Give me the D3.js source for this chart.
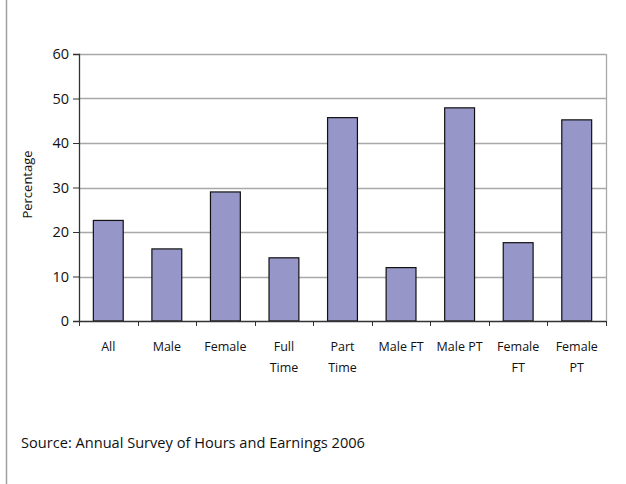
<!DOCTYPE html>
<html>
<head>
<meta charset="utf-8">
<script src="https://cdn.jsdelivr.net/npm/d3@7"></script>
<style>
  body { margin: 0; background: #fff; }
  svg text { font-family: "Open Sans", "DejaVu Sans", sans-serif; fill: #111; }
  .yax text { font-size: 14.5px; }
</style>
</head>
<body>
<div id="chart"></div>
<script>
var categories = [["All"], ["Male"], ["Female"], ["Full", "Time"], ["Part", "Time"],
                  ["Male FT"], ["Male PT"], ["Female", "FT"], ["Female", "PT"]];
var values = [22.6, 16.2, 29.0, 14.2, 45.7, 12.0, 47.9, 17.6, 45.2];
var yTicks = [0, 10, 20, 30, 40, 50, 60];
var source_text = "Source: Annual Survey of Hours and Earnings 2006";

var W = 626, H = 484;
var margin = {top: 54, right: 20, bottom: 163, left: 79},
    width = W - margin.left - margin.right,
    height = H - margin.top - margin.bottom;

var svg = d3.select("#chart")
  .append("svg")
  .attr("width", W)
  .attr("height", H);

// frame line on the left side
svg.append("line")
  .attr("x1", 6.5).attr("x2", 6.5)
  .attr("y1", 0).attr("y2", H)
  .attr("stroke", "#a0a0a0").attr("stroke-width", 1.5);

var g = svg.append("g")
  .attr("transform", "translate(" + margin.left + "," + margin.top + ")");

var keys = categories.map(function(c) { return c.join(" "); });

var x = d3.scaleBand()
  .domain(keys)
  .range([0, width])
  .paddingInner(0.49)
  .paddingOuter(0.245);

var y = d3.scaleLinear()
  .domain([0, 60])
  .range([height, 0]);

// gridlines
g.append("g")
  .selectAll("line")
  .data(yTicks.slice(1))
  .enter()
  .append("line")
  .attr("x1", 0).attr("x2", width)
  .attr("y1", function(d) { return Math.round(y(d)) + 0.5; })
  .attr("y2", function(d) { return Math.round(y(d)) + 0.5; })
  .attr("stroke", "#a8a8a8").attr("stroke-width", 1.3);

// right border of plot area
g.append("line")
  .attr("x1", width + 0.5).attr("x2", width + 0.5)
  .attr("y1", y(60)).attr("y2", y(0))
  .attr("stroke", "#a8a8a8").attr("stroke-width", 1.3);

// bars
g.append("g")
  .selectAll("rect")
  .data(values)
  .enter()
  .append("rect")
  .attr("x", function(d, i) { return x(keys[i]); })
  .attr("y", function(d) { return y(d); })
  .attr("width", x.bandwidth())
  .attr("height", function(d) { return y(0) - y(d); })
  .attr("fill", "#9696c9")
  .attr("stroke", "#111")
  .attr("stroke-width", 1.2);

// y axis
var yAxis = g.append("g")
  .attr("class", "yax")
  .call(d3.axisLeft(y).tickValues(yTicks).tickSize(6).tickPadding(4));
yAxis.attr("font-size", 14.5).attr("font-family", null);
yAxis.select(".domain").attr("stroke", "#333").attr("stroke-width", 1.3);
yAxis.selectAll(".tick line").attr("stroke", "#333");
yAxis.selectAll(".tick text").attr("fill", "#111");

// x axis: ticks between categories
var xAxisG = g.append("g").attr("transform", "translate(0," + height + ")");
xAxisG.append("line")
  .attr("x1", 0).attr("x2", width)
  .attr("y1", 0.5).attr("y2", 0.5)
  .attr("stroke", "#333").attr("stroke-width", 1.3);
xAxisG.selectAll(".xtick")
  .data(d3.range(keys.length + 1))
  .enter()
  .append("line")
  .attr("class", "xtick")
  .attr("x1", function(i) { return Math.round(x.range()[0] + i * width / keys.length) + 0.5; })
  .attr("x2", function(i) { return Math.round(x.range()[0] + i * width / keys.length) + 0.5; })
  .attr("y1", 0).attr("y2", 5)
  .attr("stroke", "#333");

var labels = xAxisG.selectAll(".xlab")
  .data(categories)
  .enter()
  .append("text")
  .attr("class", "xlab")
  .attr("text-anchor", "middle")
  .attr("transform", function(d, i) { return "translate(" + (x(keys[i]) + x.bandwidth() / 2) + ",30)"; })
  .style("font-size", "12.5px");
labels.selectAll("tspan")
  .data(function(d) { return d; })
  .enter()
  .append("tspan")
  .attr("x", 0)
  .attr("dy", function(d, i) { return i === 0 ? 0 : 21; })
  .text(function(d) { return d; });

// y label
svg.append("text")
  .attr("transform", "translate(32," + (margin.top + height / 2 - 3) + ") rotate(-90)")
  .attr("text-anchor", "middle")
  .style("font-size", "13px")
  .text("Percentage");

// source
svg.append("text")
  .attr("x", 21)
  .attr("y", 448)
  .style("font-size", "14.6px")
  .attr("fill", "#222")
  .text(source_text);
</script>
</body>
</html>
